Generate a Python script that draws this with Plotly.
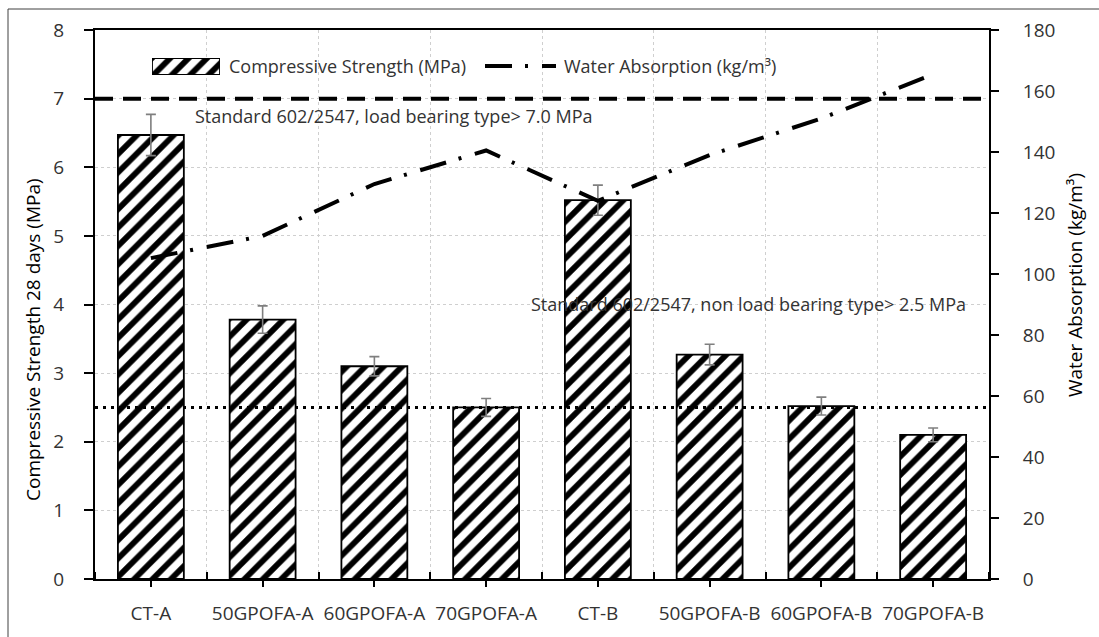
import plotly.graph_objects as go

# ---- data -------------------------------------------------------------
categories = ["CT-A", "50GPOFA-A", "60GPOFA-A", "70GPOFA-A",
              "CT-B", "50GPOFA-B", "60GPOFA-B", "70GPOFA-B"]
compressive_strength = [6.47, 3.78, 3.10, 2.50, 5.52, 3.27, 2.52, 2.10]   # MPa
strength_error = [0.30, 0.20, 0.14, 0.13, 0.22, 0.15, 0.13, 0.10]        # MPa
water_absorption = [105.2, 112.5, 129.5, 140.5, 124.0, 139.0, 151.0, 165.5]  # kg/m3

load_bearing_limit = 7.0       # MPa
non_load_bearing_limit = 2.5   # MPa

left_ticks = list(range(0, 9))
right_ticks = list(range(0, 181, 20))

# ---- layout geometry (pixels) ----------------------------------------
W, H = 1099, 637
ML, MR, MT, MB = 95, 110, 30, 58
PW, PH = W - ML - MR, H - MT - MB

def px_x(x):
    return (x - ML) / PW

def px_y(y):
    return (H - MB - y) / PH

FONT = "Open Sans"
TXT = "#333333"
GRID = "#cfcfcf"
HATCH = dict(shape="/", fgcolor="#000000", fgopacity=1, bgcolor="white",
             fillmode="overlay", size=13, solidity=0.45)

x_pos = list(range(len(categories)))

fig = go.Figure()

fig.add_trace(go.Bar(
    x=x_pos, y=compressive_strength, width=0.59,
    name="Compressive Strength (MPa)",
    marker=dict(color="white", line=dict(color="black", width=1.8),
                pattern=HATCH),
    error_y=dict(type="data", array=strength_error, color="#7f7f7f",
                 thickness=1.6, width=5),
    showlegend=False,
))

fig.add_trace(go.Scatter(
    x=x_pos, y=water_absorption, yaxis="y2", mode="lines",
    name="Water Absorption (kg/m³)",
    line=dict(color="black", width=4, dash="27px,13px,3px,14px"),
    showlegend=False,
))

# legend key for the hatched bars (small overlay axis)
fig.add_trace(go.Bar(
    x=[1], y=[0], orientation="h", width=1, xaxis="x3", yaxis="y3",
    marker=dict(color="white", line=dict(color="black", width=1.8),
                pattern=HATCH),
    showlegend=False, hoverinfo="skip",
))

shapes = [
    # standard limits
    dict(type="line", xref="x domain", x0=0, x1=1, yref="y",
         y0=load_bearing_limit, y1=load_bearing_limit,
         line=dict(color="black", width=4, dash="18px,10px"), layer="above"),
    dict(type="line", xref="x domain", x0=0, x1=1, yref="y",
         y0=non_load_bearing_limit, y1=non_load_bearing_limit,
         line=dict(color="black", width=3, dash="3px,5px"), layer="above"),
    # legend key for the line
    dict(type="line", xref="paper", yref="paper",
         x0=px_x(485), x1=px_x(556), y0=px_y(66), y1=px_y(66),
         line=dict(color="black", width=4, dash="27px,13px,3px,14px")),
    # chart frame
    dict(type="rect", xref="paper", yref="paper",
         x0=px_x(8), x1=px_x(1110), y0=px_y(650), y1=px_y(9),
         line=dict(color="#404040", width=1)),
]

annotations = [
    dict(text="Compressive Strength (MPa)", xref="paper", yref="paper",
         x=px_x(227), y=px_y(66), xanchor="left", yanchor="middle",
         showarrow=False, font=dict(family=FONT, size=18, color=TXT)),
    dict(text="Water Absorption (kg/m³)", xref="paper", yref="paper",
         x=px_x(562), y=px_y(66), xanchor="left", yanchor="middle",
         showarrow=False, font=dict(family=FONT, size=18, color=TXT)),
    dict(text="Standard 602/2547, load bearing type> 7.0 MPa",
         xref="paper", yref="paper", x=px_x(193), y=px_y(116),
         xanchor="left", yanchor="middle", showarrow=False,
         font=dict(family=FONT, size=18, color=TXT)),
    dict(text="Standard 602/2547, non load bearing type> 2.5 MPa",
         xref="paper", yref="paper", x=px_x(968), y=px_y(304),
         xanchor="right", yanchor="middle", showarrow=False,
         font=dict(family=FONT, size=18, color=TXT)),
    dict(text="Compressive Strength 28 days (MPa)", textangle=-90,
         xref="paper", yref="paper", x=px_x(33), y=px_y(340),
         xanchor="center", yanchor="middle", showarrow=False,
         font=dict(family=FONT, size=19, color="black")),
    dict(text="Water Absorption (kg/m³)", textangle=-90,
         xref="paper", yref="paper", x=px_x(1075), y=px_y(285),
         xanchor="center", yanchor="middle", showarrow=False,
         font=dict(family=FONT, size=19, color="black")),
]

fig.update_layout(
    width=W, height=H,
    margin=dict(l=ML, r=MR, t=MT, b=MB, pad=0),
    paper_bgcolor="white", plot_bgcolor="white",
    font=dict(family=FONT, color=TXT),
    xaxis=dict(
        range=[-0.5, len(categories) - 0.5],
        tickmode="array", tickvals=x_pos, ticktext=categories,
        ticks="outside", ticklen=6, tickwidth=1.5, tickcolor="black",
        showgrid=False, zeroline=False,
        showline=True, linecolor="black", linewidth=2, mirror=True,
        tickfont=dict(family=FONT, size=19, color=TXT),
        ticklabelstandoff=10,
        minor=dict(tick0=-0.5, dtick=1, ticks="inside", ticklen=7,
                   tickwidth=1.5, tickcolor="black",
                   showgrid=True, gridcolor=GRID, griddash="dot", gridwidth=1),
    ),
    yaxis=dict(
        range=[0, 8], tickmode="array", tickvals=left_ticks,
        ticks="outside", ticklen=9, tickwidth=1.5, tickcolor="black",
        showgrid=True, gridcolor=GRID, griddash="dot", gridwidth=1,
        zeroline=False, showline=True, linecolor="black", linewidth=2,
        tickfont=dict(family=FONT, size=19, color=TXT),
        ticklabelstandoff=16,
    ),
    yaxis2=dict(
        range=[0, 180], tickmode="array", tickvals=right_ticks,
        overlaying="y", side="right",
        ticks="outside", ticklen=8, tickwidth=1.5, tickcolor="black",
        showgrid=False, zeroline=False,
        showline=True, linecolor="black", linewidth=2,
        tickfont=dict(family=FONT, size=19, color=TXT),
        ticklabelstandoff=20,
    ),
    xaxis3=dict(domain=[px_x(152), px_x(220)], range=[0, 1], anchor="y3",
                visible=False, fixedrange=True),
    yaxis3=dict(domain=[px_y(75), px_y(58)], range=[-0.5, 0.5], anchor="x3",
                visible=False, fixedrange=True),
    shapes=shapes,
    annotations=annotations,
)

fig.write_html("out.html")
